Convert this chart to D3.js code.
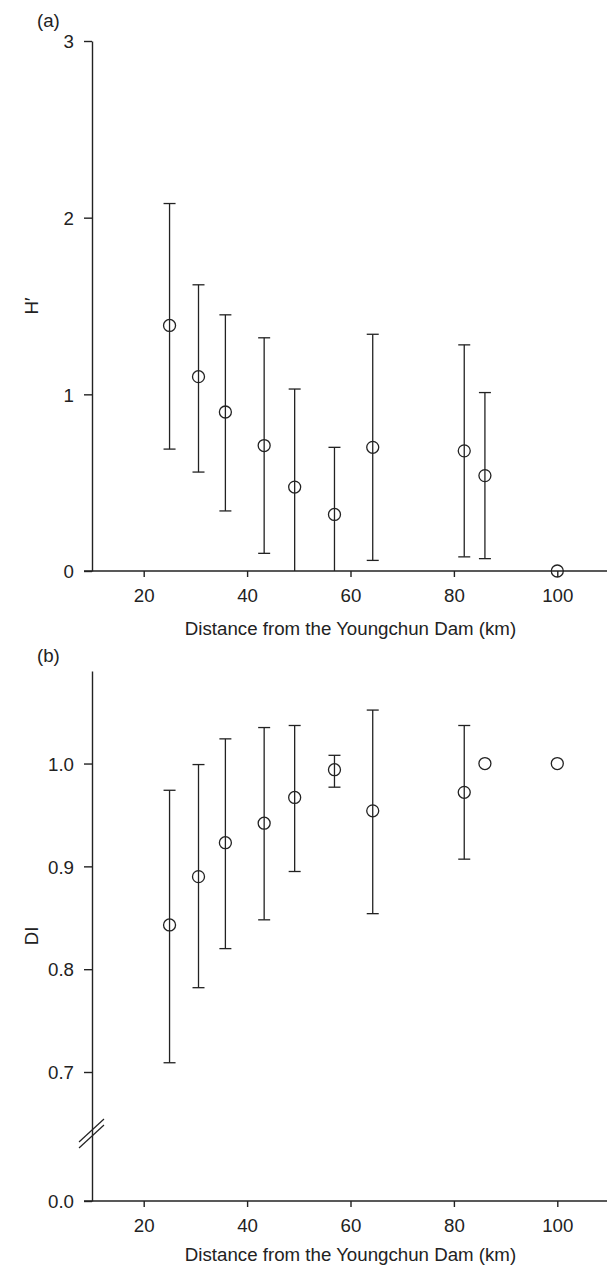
<!DOCTYPE html>
<html>
<head>
<meta charset="utf-8">
<script src="https://cdn.jsdelivr.net/npm/d3@7"></script>
<style>
  body { margin: 0; background: #fff; }
  svg { display: block; }
  text { font-family: "Liberation Sans", Arial, sans-serif; }
  .axis path, .axis line { stroke: #222; stroke-width: 1.4; }
  .axis text { font-size: 18.7px; fill: #222; font-family: "Liberation Sans", Arial, sans-serif; }
  .bar { stroke: #222; stroke-width: 1.3; fill: none; }
  .mean { stroke: #222; stroke-width: 1.3; fill: none; }
  .lbl { font-size: 18.7px; fill: #222; }
</style>
</head>
<body>
<div id="chart"></div>
<script>
// Data
var distance = [25, 30.6, 35.8, 43.3, 49.2, 56.9, 64.3, 82, 86, 100];

// (a) Shannon diversity H'
var hMean = [1.39, 1.10, 0.90, 0.71, 0.475, 0.32, 0.70, 0.68, 0.54, 0];
var hLow  = [0.69, 0.56, 0.34, 0.10, 0, 0, 0.06, 0.08, 0.07, null];
var hHigh = [2.08, 1.62, 1.45, 1.32, 1.03, 0.70, 1.34, 1.28, 1.01, null];

// (b) Dominance index DI
var diMean = [0.843, 0.890, 0.923, 0.942, 0.967, 0.994, 0.954, 0.972, 1.0, 1.0];
var diLow  = [0.709, 0.782, 0.820, 0.848, 0.895, 0.977, 0.854, 0.907, null, null];
var diHigh = [0.974, 0.999, 1.024, 1.035, 1.037, 1.008, 1.052, 1.037, null, null];

var xTicks = [20, 40, 60, 80, 100];
var hTicks = [0, 1, 2, 3];
var diTicks = [0, 0.7, 0.8, 0.9, 1.0];

var W = 607, H = 1266;
var axisX = 92;

var svg = d3.select("#chart").append("svg")
    .attr("width", W)
    .attr("height", H);

var xScale = d3.scaleLinear().domain([10, 110]).range([axisX, 609]);

var yTop = d3.scaleLinear().domain([0, 3]).range([571, 41]);
// broken axis: 0 -> 0.7 squeezed
var yBot = d3.scaleLinear().domain([0, 0.7, 1.09]).range([1201, 1072, 671]);

function rows(mean, low, high) {
  return distance.map(function(d, i) {
    return { x: d, m: mean[i], lo: low[i], hi: high[i] };
  });
}

function drawPanel(yScale, ticks, fmt, data, baseY) {
  // x axis
  var gx = svg.append("g")
      .attr("class", "axis")
      .attr("transform", "translate(0," + baseY + ")")
      .call(d3.axisBottom(xScale).tickValues(xTicks).tickSize(6).tickSizeOuter(0).tickPadding(12));
  gx.select(".domain").attr("d", "M" + (axisX - 8) + ",0H" + W);

  // y axis
  var gy = svg.append("g")
      .attr("class", "axis")
      .attr("transform", "translate(" + axisX + ",0)")
      .call(d3.axisLeft(yScale).tickValues(ticks).tickFormat(fmt).tickSize(8).tickSizeOuter(0).tickPadding(10));
  gy.selectAll(".tick text").attr("dy", "0.36em");

  var g = svg.append("g");
  var withBar = data.filter(function(d) { return d.hi != null; });

  g.selectAll(".vbar").data(withBar).enter().append("line")
      .attr("class", "bar")
      .attr("x1", function(d) { return xScale(d.x); })
      .attr("x2", function(d) { return xScale(d.x); })
      .attr("y1", function(d) { return yScale(d.lo); })
      .attr("y2", function(d) { return yScale(d.hi); });

  g.selectAll(".capHi").data(withBar).enter().append("line")
      .attr("class", "bar")
      .attr("x1", function(d) { return xScale(d.x) - 6; })
      .attr("x2", function(d) { return xScale(d.x) + 6; })
      .attr("y1", function(d) { return yScale(d.hi); })
      .attr("y2", function(d) { return yScale(d.hi); });

  g.selectAll(".capLo").data(withBar.filter(function(d) { return d.lo > 0; })).enter().append("line")
      .attr("class", "bar")
      .attr("x1", function(d) { return xScale(d.x) - 6; })
      .attr("x2", function(d) { return xScale(d.x) + 6; })
      .attr("y1", function(d) { return yScale(d.lo); })
      .attr("y2", function(d) { return yScale(d.lo); });

  g.selectAll("circle").data(data).enter().append("circle")
      .attr("class", "mean")
      .attr("cx", function(d) { return xScale(d.x); })
      .attr("cy", function(d) { return yScale(d.m); })
      .attr("r", 6);
}

drawPanel(yTop, hTicks, d3.format("d"), rows(hMean, hLow, hHigh), 571);
drawPanel(yBot, diTicks, d3.format(".1f"), rows(diMean, diLow, diHigh), 1201);

// axis break marks on the DI axis
var brk = svg.append("g");
[0, 6].forEach(function(off) {
  brk.append("line")
      .attr("x1", 79).attr("y1", 1142 + off)
      .attr("x2", 104).attr("y2", 1119 + off)
      .attr("stroke", "#222").attr("stroke-width", 1.2);
});

// labels
svg.append("text").attr("class", "lbl").attr("x", 37).attr("y", 27).text("(a)");
svg.append("text").attr("class", "lbl").attr("x", 37).attr("y", 662).text("(b)");

svg.append("text").attr("class", "lbl")
    .attr("text-anchor", "middle")
    .attr("x", xScale(60)).attr("y", 635)
    .text("Distance from the Youngchun Dam (km)");
svg.append("text").attr("class", "lbl")
    .attr("text-anchor", "middle")
    .attr("x", xScale(60)).attr("y", 1261)
    .text("Distance from the Youngchun Dam (km)");

svg.append("text").attr("class", "lbl")
    .attr("text-anchor", "middle")
    .attr("transform", "translate(38," + yTop(1.5) + ") rotate(-90)")
    .text("H\u2032");
svg.append("text").attr("class", "lbl")
    .attr("text-anchor", "middle")
    .attr("transform", "translate(38,936) rotate(-90)")
    .text("DI");
</script>
</body>
</html>
